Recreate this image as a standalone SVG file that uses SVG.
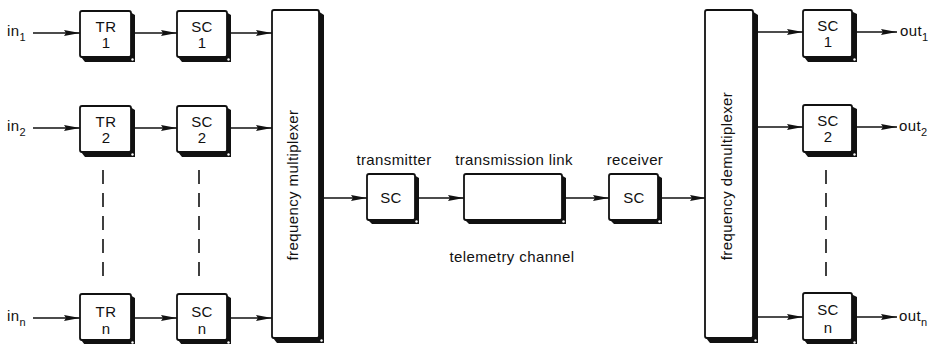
<svg xmlns="http://www.w3.org/2000/svg" width="932" height="344" viewBox="0 0 932 344">
<defs>
<style>
.t{font-family:"Liberation Sans",Arial,sans-serif;font-size:15px;fill:#111;letter-spacing:0.4px}
.c{text-anchor:middle}
.s{font-size:11px}
.face{fill:#fff;stroke:#111;stroke-width:1.8}
.sh{fill:#111}
.nt{fill:#fff}
.ln{stroke:#111;stroke-width:1.3;fill:none}
.da{stroke:#111;stroke-width:1.6;fill:none;stroke-dasharray:14 9}
</style>
<marker id="ah" viewBox="0 0 16 8" refX="16" refY="4" markerWidth="16" markerHeight="8" markerUnits="userSpaceOnUse" orient="auto">
<path d="M0,1 L16,4 L0,7 L2,4 z" fill="#111"/>
</marker>
</defs>
<rect width="932" height="344" fill="#fff"/>

<g id="connectors">
<line class="ln" x1="33" y1="33" x2="80" y2="33" marker-end="url(#ah)"/>
<line class="ln" x1="134" y1="33" x2="177" y2="33" marker-end="url(#ah)"/>
<line class="ln" x1="230" y1="33" x2="272" y2="33" marker-end="url(#ah)"/>
<line class="ln" x1="33" y1="128" x2="80" y2="128" marker-end="url(#ah)"/>
<line class="ln" x1="134" y1="128" x2="177" y2="128" marker-end="url(#ah)"/>
<line class="ln" x1="230" y1="128" x2="272" y2="128" marker-end="url(#ah)"/>
<line class="ln" x1="33" y1="318" x2="80" y2="318" marker-end="url(#ah)"/>
<line class="ln" x1="134" y1="318" x2="177" y2="318" marker-end="url(#ah)"/>
<line class="ln" x1="230" y1="318" x2="272" y2="318" marker-end="url(#ah)"/>
<line class="da" x1="103" y1="170" x2="103" y2="280"/>
<line class="da" x1="199" y1="170" x2="199" y2="280"/>
<line class="ln" x1="323" y1="198" x2="367" y2="198" marker-end="url(#ah)"/>
<line class="ln" x1="419" y1="198" x2="464" y2="198" marker-end="url(#ah)"/>
<line class="ln" x1="566" y1="198" x2="609" y2="198" marker-end="url(#ah)"/>
<line class="ln" x1="661" y1="198" x2="706" y2="198" marker-end="url(#ah)"/>
<line class="ln" x1="757" y1="32" x2="803" y2="32" marker-end="url(#ah)"/>
<line class="ln" x1="757" y1="127" x2="803" y2="127" marker-end="url(#ah)"/>
<line class="ln" x1="757" y1="317" x2="803" y2="317" marker-end="url(#ah)"/>
<line class="da" x1="826" y1="170" x2="826" y2="280"/>
<line class="ln" x1="856" y1="32" x2="897" y2="32" marker-end="url(#ah)"/>
<line class="ln" x1="856" y1="127" x2="897" y2="127" marker-end="url(#ah)"/>
<line class="ln" x1="856" y1="317" x2="897" y2="317" marker-end="url(#ah)"/>
</g>

<g id="inputs">
<text class="t" x="7" y="36">in<tspan class="s" dy="5">1</tspan></text>
<text class="t" x="7" y="131">in<tspan class="s" dy="5">2</tspan></text>
<text class="t" x="7" y="321">in<tspan class="s" dy="5">n</tspan></text>
</g>

<g id="tr1">
<polygon class="sh" points="130,12 135,15 135,62 85,62 81,57"/>
<rect class="face" x="80" y="11" width="51" height="46" rx="2"/>
<circle class="nt" cx="132.5" cy="59.5" r="1.2"/>
<text class="t c" x="106" y="32">TR</text><text class="t c" x="106" y="48">1</text>
</g>
<g id="sc1">
<polygon class="sh" points="226,12 231,15 231,62 182,62 178,57"/>
<rect class="face" x="177" y="11" width="50" height="46" rx="2"/>
<circle class="nt" cx="228.5" cy="59.5" r="1.2"/>
<text class="t c" x="202" y="32">SC</text><text class="t c" x="202" y="48">1</text>
</g>
<g id="tr2">
<polygon class="sh" points="130,107 135,110 135,157 85,157 81,152"/>
<rect class="face" x="80" y="106" width="51" height="46" rx="2"/>
<circle class="nt" cx="132.5" cy="154.5" r="1.2"/>
<text class="t c" x="106" y="127">TR</text><text class="t c" x="106" y="143">2</text>
</g>
<g id="sc2">
<polygon class="sh" points="226,107 231,110 231,157 182,157 178,152"/>
<rect class="face" x="177" y="106" width="50" height="46" rx="2"/>
<circle class="nt" cx="228.5" cy="154.5" r="1.2"/>
<text class="t c" x="202" y="127">SC</text><text class="t c" x="202" y="143">2</text>
</g>
<g id="trn">
<polygon class="sh" points="130,295 135,298 135,345 85,345 81,340"/>
<rect class="face" x="80" y="294" width="51" height="46" rx="2"/>
<circle class="nt" cx="132.5" cy="342.5" r="1.2"/>
<text class="t c" x="106" y="317">TR</text><text class="t c" x="106" y="334">n</text>
</g>
<g id="scn">
<polygon class="sh" points="226,295 231,298 231,345 182,345 178,340"/>
<rect class="face" x="177" y="294" width="50" height="46" rx="2"/>
<circle class="nt" cx="228.5" cy="342.5" r="1.2"/>
<text class="t c" x="202" y="317">SC</text><text class="t c" x="202" y="334">n</text>
</g>

<g id="mux">
<polygon class="sh" points="318,11 324,15 324,343 277,343 273,338"/>
<rect class="face" x="272" y="10" width="47" height="328" rx="2"/>
<circle class="nt" cx="321.5" cy="340.5" r="1.2"/>
<text class="t c" transform="translate(298,185) rotate(-90)">frequency multiplexer</text>
</g>

<g id="transmitter">
<text class="t c" x="394" y="165">transmitter</text>
<polygon class="sh" points="414,175 419,178 419,224 372,224 368,220"/>
<rect class="face" x="367" y="174" width="48" height="46" rx="2"/>
<circle class="nt" cx="416.5" cy="221.5" r="1.2"/>
<text class="t c" x="391" y="203">SC</text>
</g>

<g id="link">
<text class="t c" x="514" y="165">transmission link</text>
<polygon class="sh" points="561,175 566,178 566,224 469,224 465,220"/>
<rect class="face" x="464" y="174" width="98" height="46" rx="2"/>
<circle class="nt" cx="563.5" cy="221.5" r="1.2"/>
<text class="t c" x="512" y="262">telemetry channel</text>
</g>

<g id="receiver">
<text class="t c" x="635" y="165">receiver</text>
<polygon class="sh" points="657,175 662,178 662,224 614,224 610,220"/>
<rect class="face" x="609" y="174" width="49" height="46" rx="2"/>
<circle class="nt" cx="659.5" cy="221.5" r="1.2"/>
<text class="t c" x="634" y="203">SC</text>
</g>

<g id="demux">
<polygon class="sh" points="752,11 758,15 758,343 710,343 706,338"/>
<rect class="face" x="705" y="10" width="48" height="328" rx="2"/>
<circle class="nt" cx="755.5" cy="340.5" r="1.2"/>
<text class="t c" transform="translate(732,176) rotate(-90)">frequency demultiplexer</text>
</g>

<g id="sco1">
<polygon class="sh" points="851,11 857,14 857,62 808,62 804,57"/>
<rect class="face" x="803" y="10" width="49" height="47" rx="2"/>
<circle class="nt" cx="854.5" cy="59.5" r="1.2"/>
<text class="t c" x="828" y="31">SC</text><text class="t c" x="828" y="47">1</text>
</g>
<g id="sco2">
<polygon class="sh" points="851,106 857,109 857,157 808,157 804,152"/>
<rect class="face" x="803" y="105" width="49" height="47" rx="2"/>
<circle class="nt" cx="854.5" cy="154.5" r="1.2"/>
<text class="t c" x="828" y="126">SC</text><text class="t c" x="828" y="142">2</text>
</g>
<g id="scon">
<polygon class="sh" points="851,294 857,297 857,345 808,345 804,340"/>
<rect class="face" x="803" y="293" width="49" height="47" rx="2"/>
<circle class="nt" cx="854.5" cy="342.5" r="1.2"/>
<text class="t c" x="828" y="315">SC</text><text class="t c" x="828" y="333">n</text>
</g>

<g id="outputs">
<text class="t" x="900" y="36">out<tspan class="s" dy="5">1</tspan></text>
<text class="t" x="899" y="131">out<tspan class="s" dy="5">2</tspan></text>
<text class="t" x="899" y="321">out<tspan class="s" dy="5">n</tspan></text>
</g>
</svg>
